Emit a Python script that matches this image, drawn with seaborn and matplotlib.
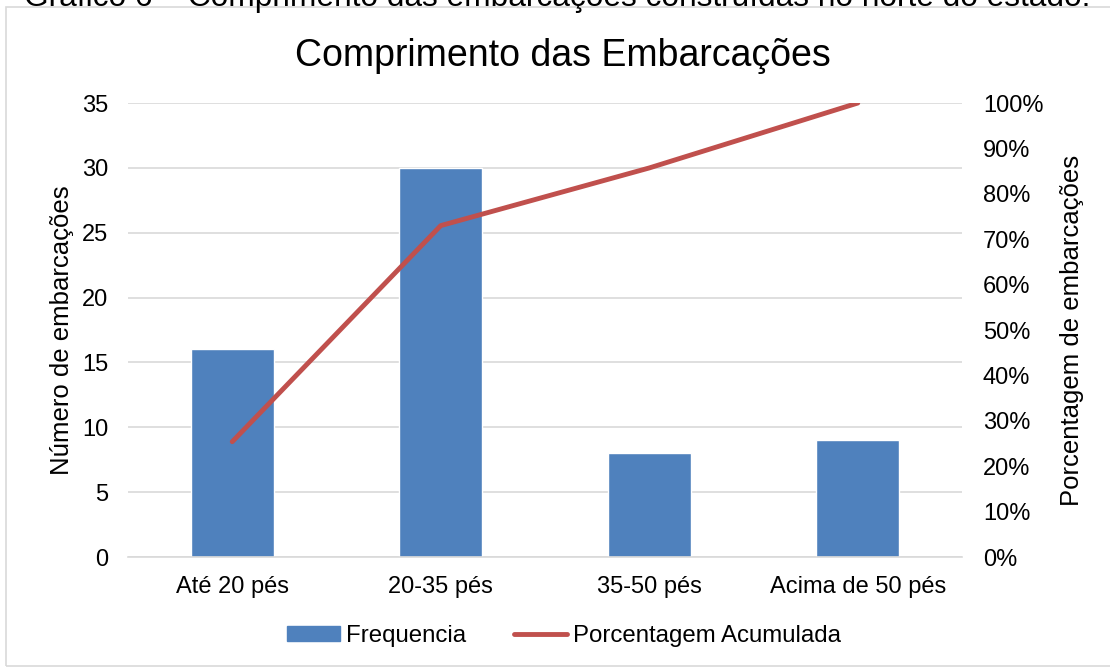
import matplotlib
matplotlib.use('Agg')
import matplotlib.pyplot as plt
import seaborn as sns
import pandas as pd
from matplotlib.patches import Rectangle
from matplotlib.lines import Line2D
from matplotlib.ticker import PercentFormatter

# data
categorias = ['Até 20 pés', '20-35 pés', '35-50 pés', 'Acima de 50 pés']
frequencia = [16, 30, 8, 9]
porcentagem_acumulada = [25.4, 73.0, 85.7, 100.0]

df = pd.DataFrame({'Categoria': categorias,
                   'Frequencia': frequencia,
                   'Acumulada': porcentagem_acumulada})

sns.set_style('white')
plt.rcParams['font.family'] = ['Liberation Sans', 'DejaVu Sans']
plt.rcParams['text.color'] = 'black'
plt.rcParams['axes.labelcolor'] = 'black'

bar_color = '#4F81BD'
line_color = '#C0504D'
grid_color = '#D9D9D9'

fig = plt.figure(figsize=(11.1, 6.69), dpi=100)
ax = fig.add_axes([0.1153, 0.1674, 0.7514, 0.6786])

sns.barplot(data=df, x='Categoria', y='Frequencia', color=bar_color,
            width=0.4, saturation=1, ax=ax, zorder=2)
ax.set_ylim(0, 35)
ax.set_yticks(range(0, 36, 5))
ax.grid(axis='y', color=grid_color, linewidth=1.2, zorder=0)
ax.set_axisbelow(True)
for s in ['top', 'left', 'right']:
    ax.spines[s].set_visible(False)
ax.spines['bottom'].set_color(grid_color)
ax.spines['bottom'].set_linewidth(1.2)
ax.tick_params(axis='both', length=0, labelsize=17, colors='black')
ax.tick_params(axis='x', pad=14)
ax.tick_params(axis='y', pad=14)
ax.set_xlabel('')
ax.set_ylabel('Número de embarcações', fontsize=18.5, labelpad=6)

ax2 = ax.twinx()
sns.lineplot(data=df, x='Categoria', y='Acumulada', color=line_color,
             linewidth=3.5, sort=False, ax=ax2)
ax2.set_ylim(0, 100)
ax2.set_yticks(range(0, 101, 10))
ax2.yaxis.set_major_formatter(PercentFormatter(decimals=0))
for s in ax2.spines.values():
    s.set_visible(False)
ax2.tick_params(axis='y', length=0, labelsize=17, pad=15, colors='black')
ax2.set_ylabel('Porcentagem de embarcações', fontsize=18.5, labelpad=12)
ax2.set_xlabel('')
ax.set_xlim(-0.5, 3.5)

ax.set_title('Comprimento das Embarcações', fontsize=27, pad=27, x=0.5216)

handles = [Rectangle((0, 0), 1, 1, color=bar_color),
           Line2D([0], [0], color=line_color, linewidth=3.5,
                  solid_capstyle='round')]
fig.legend(handles, ['Frequencia', 'Porcentagem Acumulada'], loc='center',
           bbox_to_anchor=(0.508, 0.049), ncol=2, frameon=False, fontsize=17.3,
           handlelength=2.2, handleheight=0.6, handletextpad=0.25,
           columnspacing=2.0)

# outer chart border and cut caption above it
fig.patches.append(Rectangle((0.005, 0.004), 1.2, 0.985, transform=fig.transFigure,
                             fill=False, edgecolor=grid_color, linewidth=1.2))
fig.text(0.022, 1 - 6 / 669, 'Gráfico 6 – Comprimento das embarcações construídas no norte do estado.',
         fontsize=22.8, va='baseline', ha='left')

fig.savefig('out.png', dpi=100)
